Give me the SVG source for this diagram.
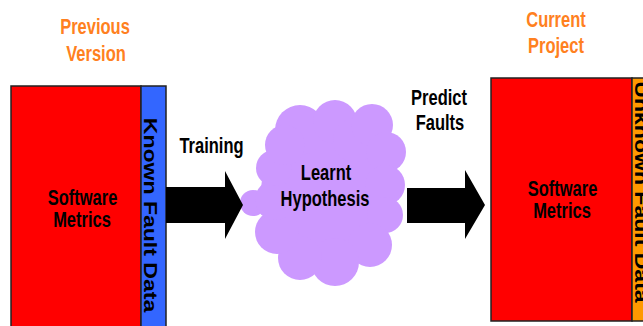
<svg xmlns="http://www.w3.org/2000/svg" width="643" height="326" viewBox="0 0 643 326">
<style>
  text { font-family: "Liberation Sans", Arial, sans-serif; font-weight: bold; font-size: 16.5px; text-anchor: middle; }
  .title { fill: #FF8020; }
  .lbl { fill: #000; }
  .side { font-size: 18px; fill: #000; }
  .box { stroke: #222; stroke-width: 1.5; }
  .cloud { fill: #CC99FF; }
  .arrow { fill: #000; }
</style>
<rect width="643" height="326" fill="#fff"/>

<g id="previous-version">
  <text class="title" transform="translate(95,34) scale(1,1.3)">Previous</text>
  <text class="title" transform="translate(96,61) scale(1,1.3)">Version</text>
  <rect class="box" x="11" y="86" width="130" height="245" fill="#FF0000"/>
  <rect class="box" x="141" y="86" width="25" height="245" fill="#3366FF"/>
  <text class="lbl" transform="translate(82.5,205) scale(1,1.3)">Software</text>
  <text class="lbl" transform="translate(82,227) scale(1,1.3)">Metrics</text>
  <text class="side" transform="translate(144,215) rotate(90) scale(1.28,1)">Known Fault Data</text>
</g>

<g id="learnt-hypothesis">
  <g class="cloud">
    <ellipse cx="327" cy="193" rx="66" ry="76"/>
    <circle cx="300" cy="130" r="25"/>
    <circle cx="335" cy="122" r="22"/>
    <circle cx="355" cy="140" r="22"/>
    <circle cx="372" cy="125" r="21"/>
    <circle cx="386" cy="152" r="20"/>
    <circle cx="385" cy="185" r="20"/>
    <circle cx="385" cy="215" r="18"/>
    <circle cx="370" cy="245" r="22"/>
    <circle cx="335" cy="262" r="24"/>
    <circle cx="300" cy="258" r="22"/>
    <circle cx="277" cy="232" r="22"/>
    <circle cx="253" cy="203" r="13"/>
    <circle cx="275" cy="200" r="20"/>
    <circle cx="274" cy="168" r="18"/>
    <circle cx="285" cy="145" r="20"/>
  </g>
  <text class="lbl" transform="translate(326,180) scale(1,1.3)">Learnt</text>
  <text class="lbl" transform="translate(325,206) scale(1,1.3)">Hypothesis</text>
</g>

<g id="current-project">
  <text class="title" transform="translate(556,27) scale(1,1.3)">Current</text>
  <text class="title" transform="translate(556,53) scale(1,1.3)">Project</text>
  <rect class="box" x="491" y="78" width="141" height="243" fill="#FF0000"/>
  <rect class="box" x="632" y="78" width="20" height="243" fill="#FF9900"/>
  <text class="lbl" transform="translate(562.5,196) scale(1,1.3)">Software</text>
  <text class="lbl" transform="translate(562,218) scale(1,1.3)">Metrics</text>
  <text class="side" transform="translate(635,192) rotate(90) scale(1.28,1)">Unknown Fault Data</text>
</g>

<g id="connectors">
  <polygon class="arrow" points="166,187 225,187 225,171 243,205 225,239 225,223 166,223"/>
  <text class="lbl" transform="translate(211.5,153) scale(1,1.3)">Training</text>
  <polygon class="arrow" points="407,188 465,188 465,170 485,205 465,239 465,223 407,223"/>
  <text class="lbl" transform="translate(439,105) scale(1,1.3)">Predict</text>
  <text class="lbl" transform="translate(440,130) scale(1,1.3)">Faults</text>
</g>
</svg>
